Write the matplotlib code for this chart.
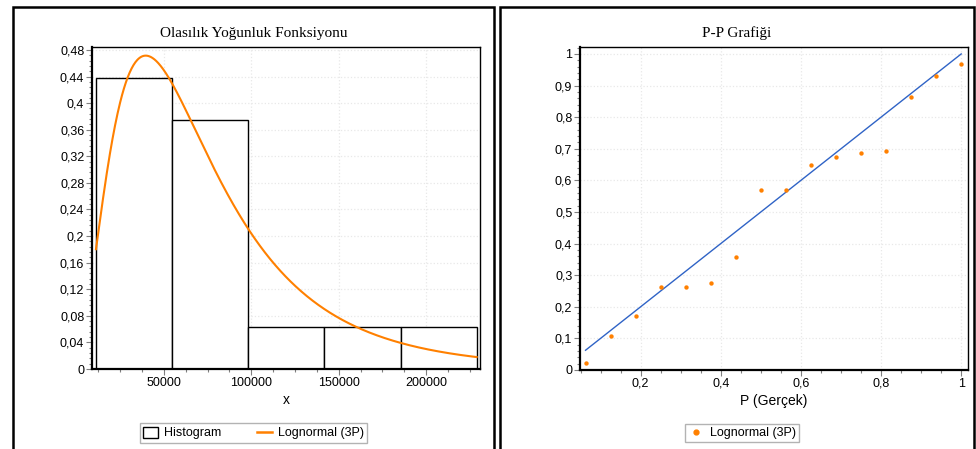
import matplotlib
matplotlib.use("Agg")
import matplotlib.pyplot as plt
import numpy as np
from matplotlib.patches import Rectangle, Patch
from matplotlib.lines import Line2D
from matplotlib.ticker import MultipleLocator, AutoMinorLocator, FuncFormatter

# histogram (16 observations, 5 classes)
bin_edges = [11140, 54700, 98260, 141820, 185380, 228940]
bin_counts = [7, 6, 1, 1, 1]

# fitted Lognormal (3P): shape sigma, scale mu, location gamma
ln_sigma = 0.615
ln_mu = 11.19
ln_gamma = -10000

# P-P plot: empirical P vs. fitted CDF
p_empirical = [0.0625, 0.125, 0.1875, 0.25, 0.3125, 0.375, 0.4375, 0.5,
               0.5625, 0.625, 0.6875, 0.75, 0.8125, 0.875, 0.9375, 1.0]
p_fitted = [0.023, 0.107, 0.170, 0.264, 0.264, 0.275, 0.358, 0.571,
            0.571, 0.648, 0.675, 0.686, 0.692, 0.865, 0.929, 0.969]

W, H = 976, 449
ORANGE = "#ff8000"
BLUE = "#2f63c6"
GRID = "#e8e8e8"
TICK = "#808080"

plt.rcParams["font.family"] = ["Liberation Sans", "DejaVu Sans"]

fig = plt.figure(figsize=(W / 100, H / 100), dpi=100)
fig.patch.set_facecolor("white")


def px_axes(x0, y0, x1, y1):
    return fig.add_axes([x0 / W, 1 - y1 / H, (x1 - x0) / W, (y1 - y0) / H])


def comma(v, pos):
    return f"{round(v, 3):g}".replace(".", ",")


def style(ax):
    ax.grid(True, which="major", color=GRID, linestyle=":", linewidth=0.9)
    ax.set_axisbelow(True)
    for side in ["top", "right"]:
        ax.spines[side].set_linewidth(1.0)
    for side in ["left", "bottom"]:
        ax.spines[side].set_linewidth(1.6)
    ax.tick_params(which="major", direction="out", length=4, width=0.8,
                   color=TICK, labelsize=9, pad=1.5)
    ax.tick_params(which="minor", direction="out", length=2, width=0.8, color=TICK)
    ax.yaxis.set_major_formatter(FuncFormatter(comma))


# panel frames
for x0, x1 in [(13, 494), (500, 974)]:
    fig.patches.append(Rectangle((x0 / W, -0.1), (x1 - x0) / W, 1.1 - 7 / H,
                                 transform=fig.transFigure, fill=False,
                                 edgecolor="black", linewidth=1.8))

# ---- left: density histogram + fitted curve
ax1 = px_axes(92, 47, 480, 369)
edges = np.array(bin_edges, dtype=float)
rel = np.array(bin_counts) / sum(bin_counts)
ax1.bar(edges[:-1], rel, width=np.diff(edges), align="edge",
        facecolor="white", edgecolor="black", linewidth=1.0, zorder=2)

bw = np.mean(np.diff(edges))
xs = np.linspace(edges[0], edges[-1], 600)
y = xs - ln_gamma
pdf = np.exp(-(np.log(y) - ln_mu) ** 2 / (2 * ln_sigma ** 2)) / (y * ln_sigma * np.sqrt(2 * np.pi))
ax1.plot(xs, pdf * bw, color=ORANGE, linewidth=1.5, zorder=3)

ax1.set_xlim(8860, 230860)
ax1.set_ylim(0, 0.4845)
ax1.xaxis.set_major_locator(MultipleLocator(50000))
ax1.xaxis.set_minor_locator(AutoMinorLocator(4))
ax1.yaxis.set_major_locator(MultipleLocator(0.04))
ax1.yaxis.set_minor_locator(AutoMinorLocator(5))
style(ax1)
ax1.set_xlabel("x", fontsize=10, labelpad=3)

fig.text(253.5 / W, 1 - 33 / H, "Olasılık Yoğunluk Fonksiyonu", ha="center", va="center",
         fontsize=11, family="Liberation Serif")

hist_handle = Patch(facecolor="white", edgecolor="black", linewidth=1.0)
curve_handle = Line2D([], [], color=ORANGE, linewidth=1.8)
fig.legend([hist_handle, curve_handle], ["Histogram", "Lognormal (3P)"],
           loc="center", bbox_to_anchor=(253.5 / W, 1 - 433 / H), ncol=2,
           fontsize=9, frameon=True, fancybox=False, edgecolor="#a0a0a0",
           handlelength=1.2, handleheight=1.0, columnspacing=2.8,
           handletextpad=0.5, borderpad=0.25, borderaxespad=0)

# ---- right: P-P plot
ax2 = px_axes(580, 47, 968, 370)
ax2.plot([p_empirical[0], p_empirical[-1]], [p_empirical[0], p_empirical[-1]],
         color=BLUE, linewidth=1.0, zorder=2)
ax2.scatter(p_empirical, p_fitted, s=10, color=ORANGE, marker="o", zorder=3,
            linewidths=0)
ax2.set_xlim(0.0487, 1.017)
ax2.set_ylim(0, 1.022)
ax2.xaxis.set_major_locator(MultipleLocator(0.2))
ax2.xaxis.set_minor_locator(AutoMinorLocator(4))
ax2.yaxis.set_major_locator(MultipleLocator(0.1))
ax2.yaxis.set_minor_locator(AutoMinorLocator(5))
style(ax2)
ax2.xaxis.set_major_formatter(FuncFormatter(comma))
ax2.set_xlabel("P (Gerçek)", fontsize=10, labelpad=3)

fig.text(737 / W, 1 - 33 / H, "P-P Grafiği", ha="center", va="center",
         fontsize=11, family="Liberation Serif")

pt_handle = Line2D([], [], color=ORANGE, marker="o", markersize=3.5, linestyle="none")
fig.legend([pt_handle], ["Lognormal (3P)"],
           loc="center", bbox_to_anchor=(742 / W, 1 - 433 / H),
           fontsize=9, frameon=True, fancybox=False, edgecolor="#a0a0a0",
           handlelength=1.3, handletextpad=0.5, borderpad=0.25, borderaxespad=0)

fig.savefig("out.png", dpi=100)
